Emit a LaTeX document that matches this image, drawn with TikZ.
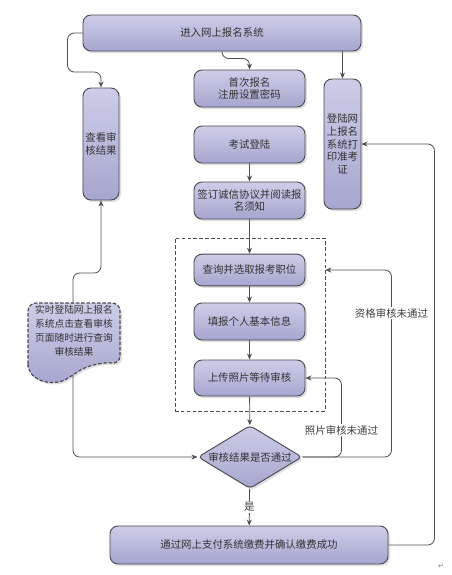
\documentclass[tikz,border=0pt]{standalone}
\usepackage{fontspec}
\newfontfamily\cjk{Noto Sans CJK SC}
\newfontfamily\symfont{DejaVu Sans}
\usetikzlibrary{shapes.geometric,shadows,arrows.meta}
\definecolor{boxtop}{HTML}{CDCDE8}
\definecolor{boxbottom}{HTML}{A6A6CF}
\definecolor{boxline}{HTML}{4A4A55}
\definecolor{wireline}{HTML}{505050}

\begin{document}
\begin{tikzpicture}[x = 0.03cm, y = -0.03cm,
	box/.style = {draw = boxline, line width = 0.8pt, rounded corners = 2.4mm, top color = boxtop, bottom color = boxbottom, drop shadow = {opacity = 0.25, shadow xshift = 0.6mm, shadow yshift = -0.6mm}, font = \cjk\fontsize{8.9}{11}\selectfont, text = black!80, align = center, inner sep = 1pt},
	frame/.style = {draw = gray!60!black, densely dashed, line width = 0.5pt, minimum width = 4.5cm, minimum height = 5.19cm},
	doc/.style = {draw = boxline, line width = 1pt, dash pattern = on 3pt off 1.5pt, rounded corners = 2.4mm, top color = boxtop, bottom color = boxbottom, drop shadow = {opacity = 0.25, shadow xshift = 0.6mm, shadow yshift = -0.6mm}},
	wire/.style = {draw = wireline, line width = 0.7pt, rounded corners = 2mm, -{Stealth[length = 1.8mm, width = 1.5mm]}},
	note/.style = {font = \cjk\fontsize{8.9}{11}\selectfont, text = black!75, fill = white, inner sep = 1pt}]
	\useasboundingbox (0,0) rectangle (452,575);
	
	% top row
	\node[box, minimum width = 8.34cm, minimum height = 1.08cm] (enter) at (222,33) {进入网上报名系统};
	\node[box, minimum width = 3.33cm, minimum height = 1.11cm] (first) at (249.5,88.5) {首次报名\\注册设置密码};
	\node[box, minimum width = 3.33cm, minimum height = 1.11cm] (login) at (249.5,144.5) {考试登陆};
	\node[box, minimum width = 3.33cm, minimum height = 1.11cm] (sign) at (249.5,200.5) {签订诚信协议并阅读报\\名须知};
	\node[box, minimum width = 1.08cm, minimum height = 3.36cm] (check) at (101,144) {查看审\\核结果};
	\node[box, minimum width = 1.11cm, minimum height = 3.9cm] (print) at (342.5,144) {登陆网\\上报名\\系统打\\印准考\\证};
	
	% dashed group
	\node[frame] (group) at (250,324.5) {};
	\node[box, minimum width = 3.33cm, minimum height = 0.95cm] (query) at (249.5,270) {查询并选取报考职位};
	\node[box, minimum width = 3.33cm, minimum height = 1.11cm] (info) at (249.5,321.5) {填报个人基本信息};
	\node[box, minimum width = 3.33cm, minimum height = 1.08cm] (upload) at (249.5,378) {上传照片等待审核};
	
	\node[box, diamond, shape aspect = 1.65, rounded corners = 1.2mm, minimum width = 3.12cm, minimum height = 1.89cm, inner sep = 0pt] (judge) at (250,457) {审核结果是否通过};
	\node[box, minimum width = 8.34cm, minimum height = 1.14cm] (pay) at (249,545) {通过网上支付系统缴费并确认缴费成功};
	
	% document shape
	\draw[doc] (28,372) -- (28,303) -- (120,303) -- (120,364) .. controls (105,362) and (88,365) .. (73,375) .. controls (60,383) and (45,385) .. (28,372) -- cycle;
	\node[font = \cjk\fontsize{8.3}{12}\selectfont, text = black!80, align = center] (doctext) at (74,331) {实时登陆网上报名\\系统点击查看审核\\页面随时进行查询\\审核结果};
	\coordinate (doctop) at (73,303);
	\coordinate (docbottom) at (73,375);
	
	\draw[wire] (enter.west) -- ++(-15,0) -- ++(0,39) -| (check.north);
	\draw[wire] (enter.south) -- ++(0,7) -| (first.north);
	\draw[wire] (enter.south -| print.north) -- (print.north);
	\draw[wire] (login) -- (sign);
	\draw[wire] (sign) -- (query);
	\draw[wire] (query) -- (info);
	\draw[wire] (info) -- (upload);
	\draw[wire] (upload) -- (judge);
	\draw[wire] (judge) -- node[note] {是} (pay);
	\draw[wire] (doctop) -- ++(0,-30) -| (check.south);
	\draw[wire] (docbottom) |- (judge.west);
	\draw[wire] (judge.east) -- ++(39,0) |- node[note, pos = 0.17] {照片审核未通过} (upload.east);
	\draw[wire] (judge.east) -- ++(89,0) |- node[note, pos = 0.385] {资格审核未通过} (group.east |- query);
	\draw[wire] (pay.east) -- ++(46,0) |- (print.east);
	
	\node[font = \symfont\fontsize{6}{6}\selectfont, text = gray] (mark) at (441,566) {↵};
	
\end{tikzpicture}
\end{document}
